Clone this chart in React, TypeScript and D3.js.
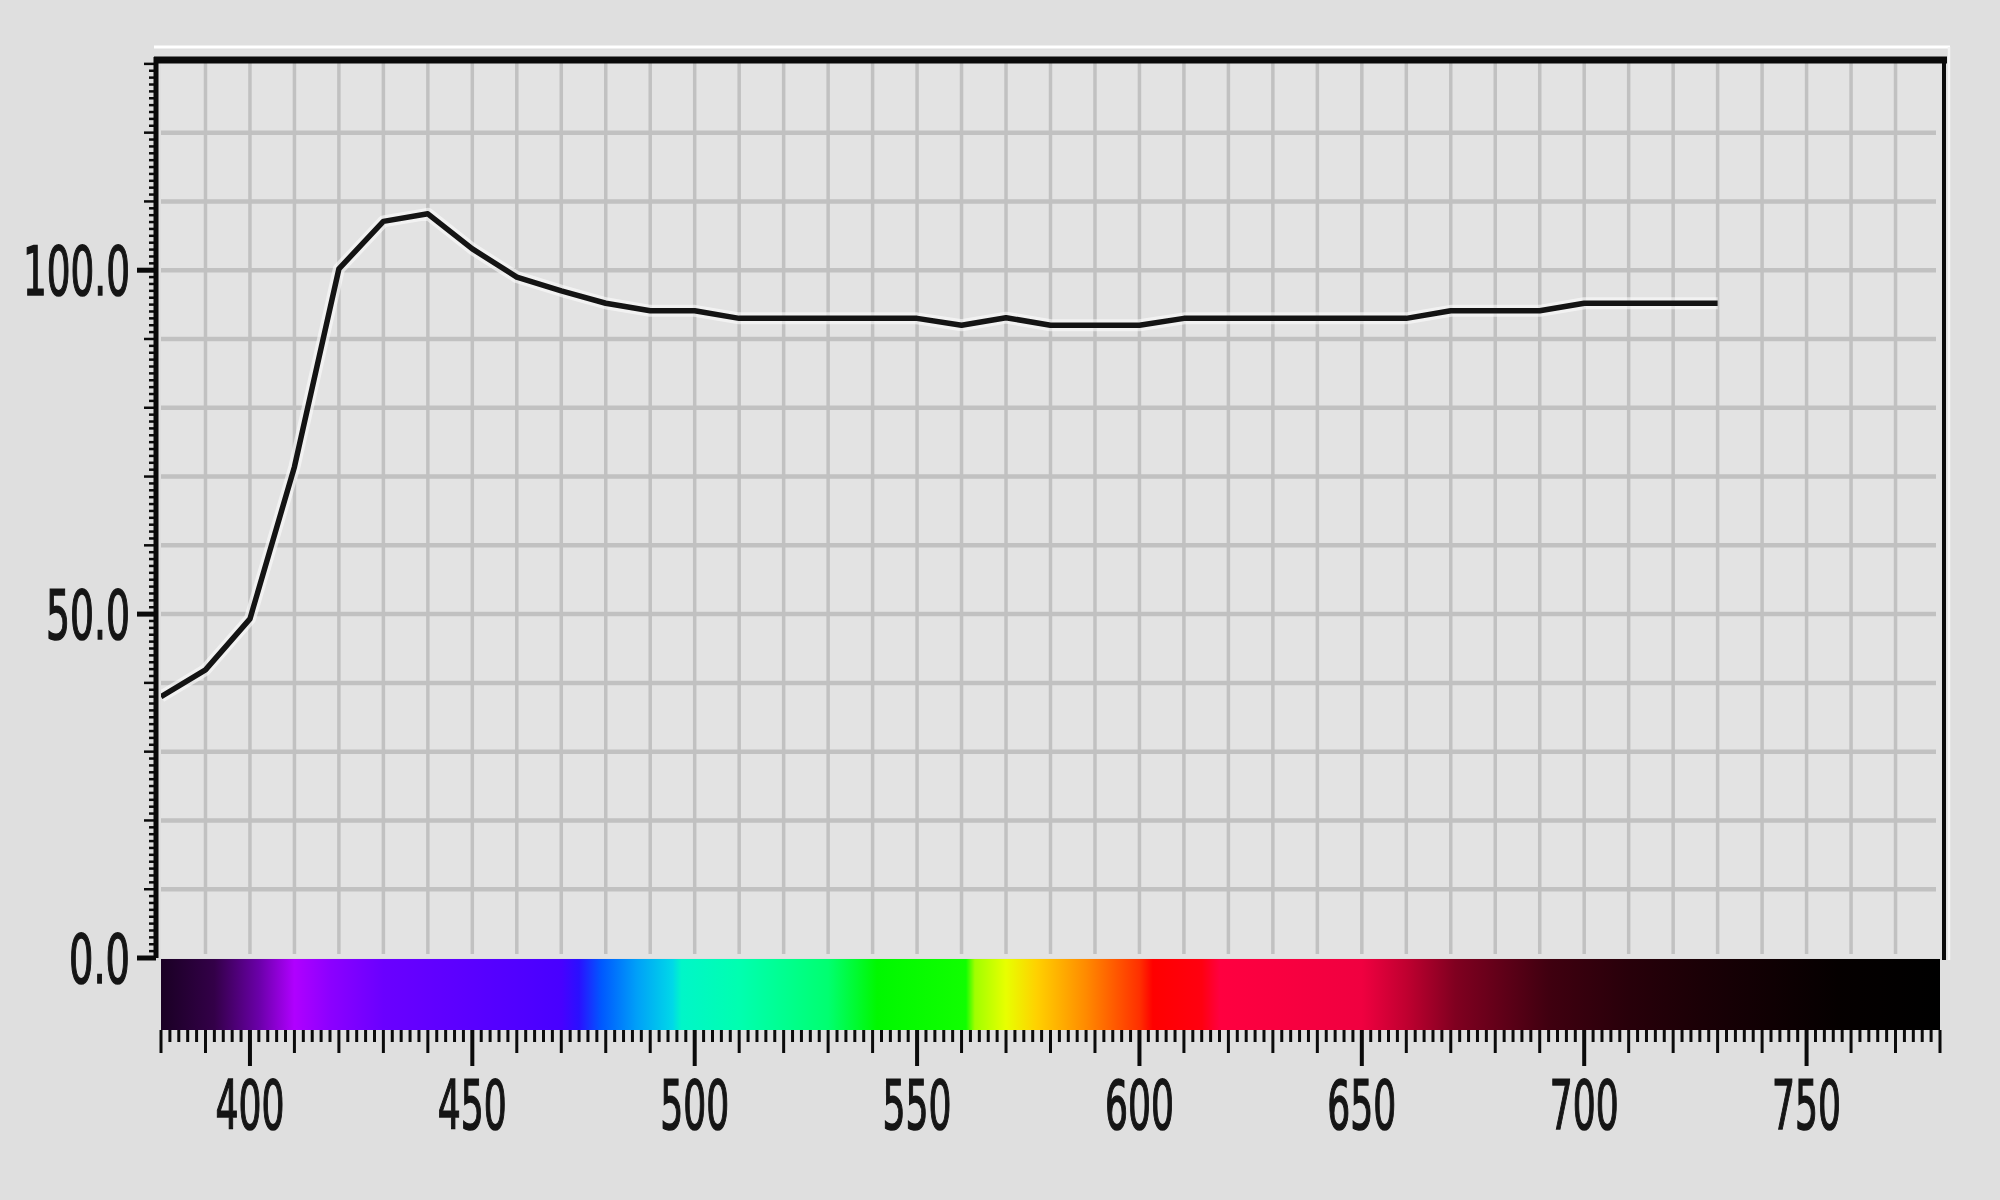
import * as d3 from 'd3'

// transmittance curve, one reading every 10 nm
const WAVELENGTHS = [
  380, 390, 400, 410, 420, 430, 440, 450, 460, 470, 480, 490, 500, 510, 520, 530, 540, 550,
  560, 570, 580, 590, 600, 610, 620, 630, 640, 650, 660, 670, 680, 690, 700, 710, 720, 730,
]
const TRANSMITTANCE = [
  38.0, 41.9, 49.3, 71.4, 100.2, 107.1, 108.2, 103.1, 99.0, 97.0, 95.2, 94.1, 94.1, 93.0, 93.0, 93.0, 93.0, 93.0,
  92.0, 93.1, 92.0, 92.0, 92.0, 93.0, 93.0, 93.0, 93.0, 93.0, 93.0, 94.1, 94.1, 94.1, 95.2, 95.2, 95.2, 95.2,
]

const Y_TICK_VALUES = [0, 50, 100]
const Y_TICK_LABELS = ['0.0', '50.0', '100.0']
const X_TICK_VALUES = [400, 450, 500, 550, 600, 650, 700, 750]
const X_TICK_LABELS = ['400', '450', '500', '550', '600', '650', '700', '750']

// colour bar under the plot (wavelength -> colour)
const SPECTRUM_NM = [
  380, 392, 402, 410, 418, 430, 470, 474, 479, 487, 495, 497, 510, 530, 541, 561, 563, 570,
  577, 588, 600, 603, 614, 618, 650, 660, 671, 692, 710, 727, 757, 780,
]
const SPECTRUM_COLORS = [
  '#1a0024', '#330048', '#6a00a8', '#b000ff', '#8c00ff', '#6a00ff', '#4800ff', '#2a10ff', '#0058ff', '#00a0f8',
  '#00d8e8', '#00f6c8', '#00ffb0', '#00ff70', '#00f800', '#10ff00', '#a0ff00', '#e8ff00', '#ffd000', '#ff8a00',
  '#ff3000', '#ff0000', '#ff0010', '#ff0040', '#f00040', '#c00030', '#800020', '#400010', '#28000a', '#1a0006',
  '#050000', '#000000',
]

const W = 2000
const H = 1200
const PL = 161
const PR = 1940
const PT = 57
const PB = 958
const BAR_BOTTOM = 1030
const FONT = 'DejaVu Sans, Verdana, sans-serif'

// glyphs in the reference are very narrow, squeeze them to the measured width
function labelWidth(s: string): number {
  let w = 0
  for (const ch of s) w += ch === '.' ? 15 : 23
  return w
}

export default function App() {
  const x = d3.scaleLinear().domain([380, 780]).range([PL, PR])
  const y = d3.scaleLinear().domain([0, 131]).range([PB, PT])

  const line = d3.line<number>()
    .x((_, i) => x(WAVELENGTHS[i]))
    .y((d) => y(d))
    .curve(d3.curveLinear)
  const path = line(TRANSMITTANCE) ?? ''

  const vGrid = d3.range(390, 780, 10)
  const hGrid = d3.range(10, 130, 10)
  const yMinor = d3.range(0, 131, 1)
  const xMinor = d3.range(380, 781, 2)

  return (
    <svg
      width={W}
      height={H}
      style={{ position: 'absolute', left: 0, top: 0, display: 'block' }}
    >
      <defs>
        <linearGradient id="spectrum" gradientUnits="userSpaceOnUse" x1={PL} x2={PR} y1={0} y2={0}>
          {SPECTRUM_NM.map((nm, i) => (
            <stop key={nm} offset={(x(nm) - PL) / (PR - PL)} stopColor={SPECTRUM_COLORS[i]} />
          ))}
        </linearGradient>
        <clipPath id="plot">
          <rect x={PL} y={PT} width={PR - PL} height={PB - PT} />
        </clipPath>
      </defs>

      <rect x={0} y={0} width={W} height={H} fill="#dfdfdf" />
      <rect x={PL} y={PT} width={PR - PL} height={PB - PT} fill="#e3e3e3" />

      {/* grid */}
      {hGrid.map((v) => (
        <line key={`h${v}`} x1={PL} x2={PR - 4} y1={y(v)} y2={y(v)} stroke="#c1c1c1" strokeWidth={4.5} />
      ))}
      {vGrid.map((v) => (
        <line key={`v${v}`} x1={x(v)} x2={x(v)} y1={PT + 4} y2={PB - 4} stroke="#c1c1c1" strokeWidth={3.5} />
      ))}

      {/* curve */}
      <g clipPath="url(#plot)">
        <path d={path} fill="none" stroke="#ffffff" strokeOpacity={0.55} strokeWidth={12} strokeLinejoin="round" />
        <path d={path} fill="none" stroke="#141414" strokeWidth={5.5} strokeLinejoin="round" strokeLinecap="butt" />
      </g>

      {/* spectrum bar */}
      <rect x={PL} y={PB + 1} width={PR - PL} height={BAR_BOTTOM - PB - 1} fill="url(#spectrum)" />

      {/* frame */}
      <line x1={PL - 7} x2={PR + 10} y1={PT - 10} y2={PT - 10} stroke="#ffffff" strokeWidth={3} />
      <line x1={PR + 9} x2={PR + 9} y1={PT - 10} y2={PB + 2} stroke="#f4f4f4" strokeWidth={2.5} />
      <line x1={PL - 7} x2={PR + 7} y1={PT + 3} y2={PT + 3} stroke="#0a0a0a" strokeWidth={7} />
      <line x1={PR + 4} x2={PR + 4} y1={PT} y2={PB + 2} stroke="#0a0a0a" strokeWidth={4} />
      <line x1={PL - 5} x2={PL - 5} y1={PT} y2={PB} stroke="#0a0a0a" strokeWidth={5} />

      {/* y ticks */}
      {yMinor.map((v) => {
        const major = Y_TICK_VALUES.includes(v)
        const len = major ? 17 : v % 10 === 0 ? 10 : 5
        return (
          <line
            key={`yt${v}`}
            x1={PL - 7 - len}
            x2={PL - 5}
            y1={y(v)}
            y2={y(v)}
            stroke="#0a0a0a"
            strokeWidth={major ? 5 : 2.5}
          />
        )
      })}
      {Y_TICK_VALUES.map((v, i) => {
        const s = Y_TICK_LABELS[i]
        const w = labelWidth(s)
        return (
          <text
            key={`yl${v}`}
            x={130 - w}
            y={y(v) + 25}
            fontFamily={FONT}
            fontSize={68}
            fill="#151515"
            stroke="#151515"
            strokeWidth={1.6}
            textLength={w}
            lengthAdjust="spacingAndGlyphs"
          >
            {s}
          </text>
        )
      })}

      {/* x ticks */}
      {xMinor.map((v) => {
        const major = X_TICK_VALUES.includes(v)
        const len = major ? 36 : v % 10 === 0 ? 23 : 12
        return (
          <line
            key={`xt${v}`}
            x1={x(v)}
            x2={x(v)}
            y1={BAR_BOTTOM}
            y2={BAR_BOTTOM + len}
            stroke="#0a0a0a"
            strokeWidth={major ? 4 : 3}
          />
        )
      })}
      {X_TICK_VALUES.map((v, i) => {
        const s = X_TICK_LABELS[i]
        const w = labelWidth(s)
        return (
          <text
            key={`xl${v}`}
            x={x(v) - w / 2}
            y={1129}
            fontFamily={FONT}
            fontSize={68}
            fill="#151515"
            stroke="#151515"
            strokeWidth={1.6}
            textLength={w}
            lengthAdjust="spacingAndGlyphs"
          >
            {s}
          </text>
        )
      })}
    </svg>
  )
}
